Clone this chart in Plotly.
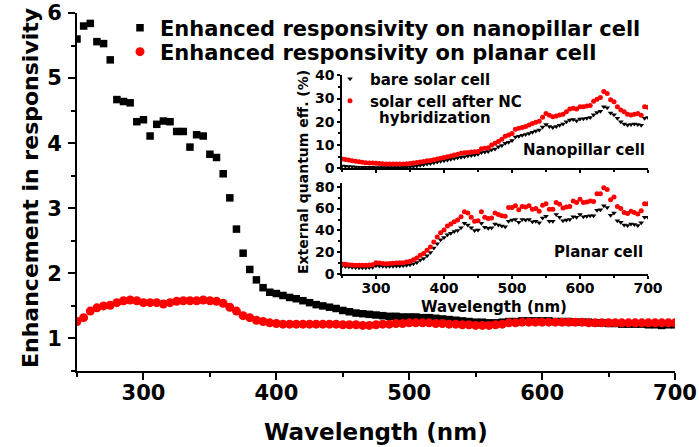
import plotly.graph_objects as go

# ---------------- data ----------------
wavelength = list(range(250, 705, 5))  # nm, 91 points

main_nanopillar = [
    5.60, 5.80, 5.84, 5.56, 5.53, 5.28, 4.67, 4.64, 4.62, 4.33,
    4.36, 4.11, 4.29, 4.34, 4.33, 4.18, 4.18, 3.94, 4.13, 4.11,
    3.83, 3.78, 3.53, 3.16, 2.68, 2.31, 2.06, 1.90, 1.78, 1.71,
    1.69, 1.66, 1.63, 1.61, 1.58, 1.55, 1.52, 1.50, 1.48, 1.46,
    1.43, 1.41, 1.39, 1.38, 1.37, 1.36, 1.35, 1.34, 1.34, 1.33,
    1.33, 1.33, 1.32, 1.32, 1.31, 1.30, 1.29, 1.28, 1.27, 1.26,
    1.25, 1.25, 1.24, 1.24, 1.25, 1.26, 1.26, 1.27, 1.27, 1.27,
    1.27, 1.27, 1.26, 1.26, 1.26, 1.25, 1.25, 1.25, 1.24, 1.24,
    1.23, 1.23, 1.22, 1.22, 1.22, 1.22, 1.21, 1.21, 1.20, 1.21,
    1.21]

main_planar = [
    1.26, 1.32, 1.42, 1.47, 1.50, 1.51, 1.55, 1.58, 1.59, 1.58,
    1.55, 1.55, 1.55, 1.53, 1.55, 1.57, 1.58, 1.58, 1.58, 1.59,
    1.58, 1.57, 1.54, 1.48, 1.42, 1.35, 1.32, 1.28, 1.26, 1.24,
    1.23, 1.22, 1.22, 1.22, 1.22, 1.22, 1.22, 1.22, 1.22, 1.22,
    1.21, 1.21, 1.21, 1.20, 1.20, 1.21, 1.22, 1.22, 1.23, 1.23,
    1.24, 1.24, 1.24, 1.24, 1.23, 1.23, 1.22, 1.22, 1.21, 1.21,
    1.20, 1.20, 1.20, 1.21, 1.22, 1.24, 1.24, 1.25, 1.25, 1.25,
    1.25, 1.25, 1.25, 1.25, 1.25, 1.25, 1.25, 1.24, 1.24, 1.24,
    1.24, 1.24, 1.24, 1.24, 1.24, 1.24, 1.24, 1.24, 1.24, 1.24,
    1.24]

eqe_np_bare = [
    1.0, 0.9, 0.8, 0.7, 0.6, 0.5, 0.5, 0.4, 0.4, 0.4,
    0.3, 0.3, 0.3, 0.3, 0.3, 0.3, 0.3, 0.3, 0.4, 0.5,
    0.6, 0.8, 1.0, 1.3, 1.5, 1.8, 2.1, 2.4, 2.7, 3.0,
    3.3, 3.6, 3.9, 4.2, 4.5, 4.8, 5.0, 5.3, 5.5, 5.7,
    6.0, 6.8, 7.0, 7.2, 8.0, 8.3, 9.3, 9.8, 10.8, 11.2,
    12.0, 13.5, 13.8, 14.2, 14.5, 15.0, 15.5, 16.0, 16.5, 17.8,
    18.8, 18.0, 17.6, 18.0, 18.5, 19.0, 20.0, 20.8, 21.0, 20.5,
    21.2, 21.3, 21.5, 21.8, 23.0, 24.0, 24.5, 26.5, 26.0, 23.8,
    23.0, 21.5, 20.0, 19.0, 18.6, 18.8, 19.0, 18.8, 18.5, 21.5,
    21.8]

eqe_np_nc = [
    4.0, 3.8, 3.6, 3.3, 3.0, 2.8, 2.6, 2.4, 2.3, 2.3,
    2.2, 2.1, 2.0, 1.9, 1.9, 1.8, 1.8, 1.8, 1.9, 2.0,
    2.1, 2.3, 2.5, 2.7, 2.9, 3.2, 3.4, 3.7, 4.0, 4.3,
    4.6, 5.0, 5.3, 5.7, 6.0, 6.5, 6.7, 6.8, 7.0, 7.1,
    7.2, 8.4, 8.6, 8.8, 10.0, 10.8, 11.5, 12.5, 13.8, 14.3,
    15.0, 16.8, 17.2, 17.6, 18.0, 18.6, 19.3, 19.8, 20.2, 22.0,
    23.6, 22.8, 22.2, 22.5, 22.9, 23.3, 24.3, 25.5, 25.8, 25.5,
    26.5, 26.5, 26.8, 27.0, 28.8, 29.7, 30.5, 33.0, 32.2, 29.5,
    28.6, 26.5, 25.1, 24.3, 23.3, 22.9, 23.2, 23.6, 22.8, 26.5,
    26.3]

eqe_pl_bare = [
    7.5, 7.2, 6.8, 6.5, 6.2, 6.0, 5.9, 6.0, 6.1, 6.4,
    7.8, 7.5, 7.3, 7.2, 7.3, 7.4, 7.5, 7.6, 7.8, 8.2,
    8.8, 9.6, 10.8, 13.0, 14.5, 17.0, 20.0, 24.0, 28.0, 31.5,
    33.5, 36.0, 37.5, 39.0, 40.0, 42.5, 46.5, 45.0, 42.5, 40.0,
    40.5, 46.5, 43.0, 42.0, 42.5, 46.0, 45.0, 44.0, 43.5, 48.5,
    49.5, 50.0, 47.5, 50.0, 49.5, 50.0, 48.0, 48.5, 47.0, 51.5,
    53.0, 48.5, 48.5, 54.5, 52.0, 49.0, 49.5, 50.0, 52.5, 52.0,
    54.5, 52.5, 53.0, 53.5, 53.5, 58.5, 59.0, 62.5, 61.0, 54.0,
    56.0, 49.0, 47.5, 45.0, 44.5, 46.0, 45.5, 44.5, 47.0, 52.0,
    52.0]

eqe_pl_nc = [
    9.4, 9.2, 8.8, 8.5, 8.3, 8.2, 8.2, 8.3, 8.4, 8.8,
    10.6, 10.3, 9.8, 9.7, 9.8, 10.0, 10.3, 10.5, 10.6, 11.2,
    12.0, 13.2, 14.8, 17.5, 19.0, 22.0, 25.0, 29.5, 34.0, 38.0,
    40.5, 44.0, 46.0, 48.0, 49.5, 52.5, 57.0, 56.0, 52.0, 48.5,
    49.0, 57.0, 52.0, 51.0, 51.5, 56.0, 54.5, 53.5, 53.0, 61.0,
    61.0, 62.5, 59.0, 62.0, 61.5, 62.5, 59.5, 60.0, 57.5, 63.0,
    64.5, 59.5, 59.5, 65.5, 64.0, 60.5, 61.5, 62.0, 67.0, 65.5,
    68.5, 65.5, 66.0, 67.0, 66.5, 73.5, 73.5, 79.0, 77.5, 68.0,
    70.5, 62.0, 60.0, 56.5, 55.5, 57.5, 56.5, 55.0, 58.0, 64.5,
    64.5]

main_xticks = [300, 400, 500, 600, 700]
main_xminor = [250, 350, 450, 550, 650]
main_yticks = [1, 2, 3, 4, 5, 6]
main_yminor = [0.5, 1.5, 2.5, 3.5, 4.5, 5.5]
np_yticks = [0, 10, 20, 30, 40]
np_yminor = [5, 15, 25, 35]
pl_yticks = [0, 20, 40, 60, 80]
pl_yminor = [10, 30, 50, 70]

# ---------------- figure ----------------
FONT = "DejaVu Sans, Verdana, sans-serif"
W, H = 699, 447
ML, MR, MT, MB = 77, 24, 13, 76
PW, PH = W - ML - MR, H - MT - MB


def fx(px):
    return (px - ML) / PW


def fy(py):
    return (H - MB - py) / PH


def bfont(size):
    return dict(size=size, family=FONT, weight="bold", color="black")


fig = go.Figure()

fig.add_trace(go.Scatter(
    x=wavelength, y=main_nanopillar, mode="markers",
    marker=dict(symbol="square", size=7.5, color="black"),
    name="Enhanced responsivity on nanopillar cell", legend="legend"))
fig.add_trace(go.Scatter(
    x=wavelength, y=main_planar, mode="markers",
    marker=dict(symbol="circle", size=9, color="#ff0000"),
    name="Enhanced responsivity on planar cell", legend="legend3"))

# upper inset (nanopillar)
fig.add_trace(go.Scatter(
    x=wavelength, y=eqe_np_bare, xaxis="x2", yaxis="y2", mode="markers",
    marker=dict(symbol="triangle-down", size=5, color="black"),
    name="bare solar cell", legend="legend2"))
fig.add_trace(go.Scatter(
    x=wavelength, y=eqe_np_nc, xaxis="x2", yaxis="y2", mode="markers",
    marker=dict(symbol="circle", size=5, color="#ff0000"),
    name="solar cell after NC", legend="legend4"))
# lower inset (planar)
fig.add_trace(go.Scatter(
    x=wavelength, y=eqe_pl_bare, xaxis="x3", yaxis="y3", mode="markers",
    marker=dict(symbol="triangle-down", size=5, color="black"),
    showlegend=False))
fig.add_trace(go.Scatter(
    x=wavelength, y=eqe_pl_nc, xaxis="x3", yaxis="y3", mode="markers",
    marker=dict(symbol="circle", size=5, color="#ff0000"),
    showlegend=False))

ax = dict(showline=True, linecolor="black", showgrid=False, zeroline=False,
          tickcolor="black", automargin=False, ticklabeloverflow="allow")

inset_x0, inset_x1 = fx(342), fx(648)


def leg(xpx, ypx, size, anchor="middle"):
    return dict(x=fx(xpx), y=fy(ypx), xanchor="left", yanchor=anchor,
                bgcolor="rgba(0,0,0,0)", font=bfont(size), valign="top")


fig.update_layout(
    width=W, height=H,
    margin=dict(l=ML, r=MR, t=MT, b=MB, autoexpand=False),
    paper_bgcolor="white", plot_bgcolor="white",
    font=dict(family=FONT, color="black"),
    xaxis=dict(**ax, range=[250, 700], tickvals=main_xticks, linewidth=2,
               ticks="outside", ticklen=7, tickwidth=2,
               minor=dict(tickvals=main_xminor, ticks="outside", ticklen=4, tickwidth=2),
               tickfont=bfont(21), domain=[0, 1], ticklabelstandoff=-5),
    yaxis=dict(**ax, range=[0.5, 6.0], tickvals=main_yticks, linewidth=2,
               ticks="outside", ticklen=7, tickwidth=2,
               minor=dict(tickvals=main_yminor, ticks="outside", ticklen=4, tickwidth=2),
               tickfont=bfont(21), domain=[0, 1], ticklabelstandoff=2),
    xaxis4=dict(**ax, overlaying="x", anchor="y", side="top", range=[250, 700],
                tickvals=main_xticks, linewidth=2, ticks="inside", ticklen=6, tickwidth=2,
                minor=dict(tickvals=main_xminor, ticks="inside", ticklen=4, tickwidth=2),
                showticklabels=False),
    yaxis4=dict(**ax, overlaying="y", anchor="x", side="right", range=[0.5, 6.0],
                tickvals=main_yticks, linewidth=2, ticks="inside", ticklen=6, tickwidth=2,
                minor=dict(tickvals=main_yminor, ticks="inside", ticklen=4, tickwidth=2),
                showticklabels=False),
    # upper inset
    xaxis2=dict(**ax, domain=[inset_x0, inset_x1], anchor="y2", range=[250, 700],
                tickvals=main_xticks, linewidth=1.5, ticks="outside", ticklen=3, tickwidth=1.5,
                minor=dict(tickvals=main_xminor, ticks="outside", ticklen=2, tickwidth=1.5),
                showticklabels=False),
    yaxis2=dict(**ax, domain=[fy(168.3), fy(75.3)], anchor="x2", range=[0, 40],
                tickvals=np_yticks, linewidth=1.5, ticks="outside", ticklen=3, tickwidth=1.5,
                minor=dict(tickvals=np_yminor, ticks="outside", ticklen=2, tickwidth=1.5),
                tickfont=bfont(14)),
    # lower inset
    xaxis3=dict(**ax, domain=[inset_x0, inset_x1], anchor="y3", range=[250, 700],
                tickvals=main_xticks, linewidth=1.5, ticks="outside", ticklen=3, tickwidth=1.5,
                minor=dict(tickvals=main_xminor, ticks="outside", ticklen=2, tickwidth=1.5),
                tickfont=bfont(14), ticklabelstandoff=-3),
    yaxis3=dict(**ax, domain=[fy(274.3), fy(183.4)], anchor="x3", range=[0, 83],
                tickvals=pl_yticks, linewidth=1.5, ticks="outside", ticklen=3, tickwidth=1.5,
                minor=dict(tickvals=pl_yminor, ticks="outside", ticklen=2, tickwidth=1.5),
                tickfont=bfont(14)),
    legend=leg(120, 28, 21),
    legend3=leg(120, 52, 21),
    legend2=leg(330, 79, 15),
    legend4=leg(330, 101, 15),
    annotations=[
        dict(text="Wavelength (nm)", xref="paper", yref="paper",
             x=fx(376), y=fy(432), xanchor="center", yanchor="middle", showarrow=False,
             font=bfont(23)),
        dict(text="Enhancement in responsivity", xref="paper", yref="paper",
             x=fx(30), y=fy(188), xanchor="center", yanchor="middle", showarrow=False,
             textangle=-90, font=bfont(22)),
        dict(text="Wavelength (nm)", xref="paper", yref="paper",
             x=fx(494), y=fy(307), xanchor="center", yanchor="middle", showarrow=False,
             font=bfont(15)),
        dict(text="hybridization", xref="paper", yref="paper",
             x=fx(377), y=fy(118), xanchor="left", yanchor="middle", showarrow=False,
             font=bfont(15)),
        dict(text="Nanopillar cell", xref="paper", yref="paper",
             x=fx(647), y=fy(150), xanchor="right", yanchor="middle", showarrow=False,
             font=bfont(15)),
        dict(text="Planar cell", xref="paper", yref="paper",
             x=fx(645), y=fy(252), xanchor="right", yanchor="middle", showarrow=False,
             font=bfont(15)),
        dict(text="External quantum eff. (%)", xref="paper", yref="paper",
             x=fx(303), y=fy(172), xanchor="center", yanchor="middle", showarrow=False,
             textangle=-90, font=bfont(14)),
    ],
)

fig.write_html(
    "out.html",
    config={"displayModeBar": False},
    post_script="document.body.style.margin='0px';document.body.style.padding='0px';",
)
